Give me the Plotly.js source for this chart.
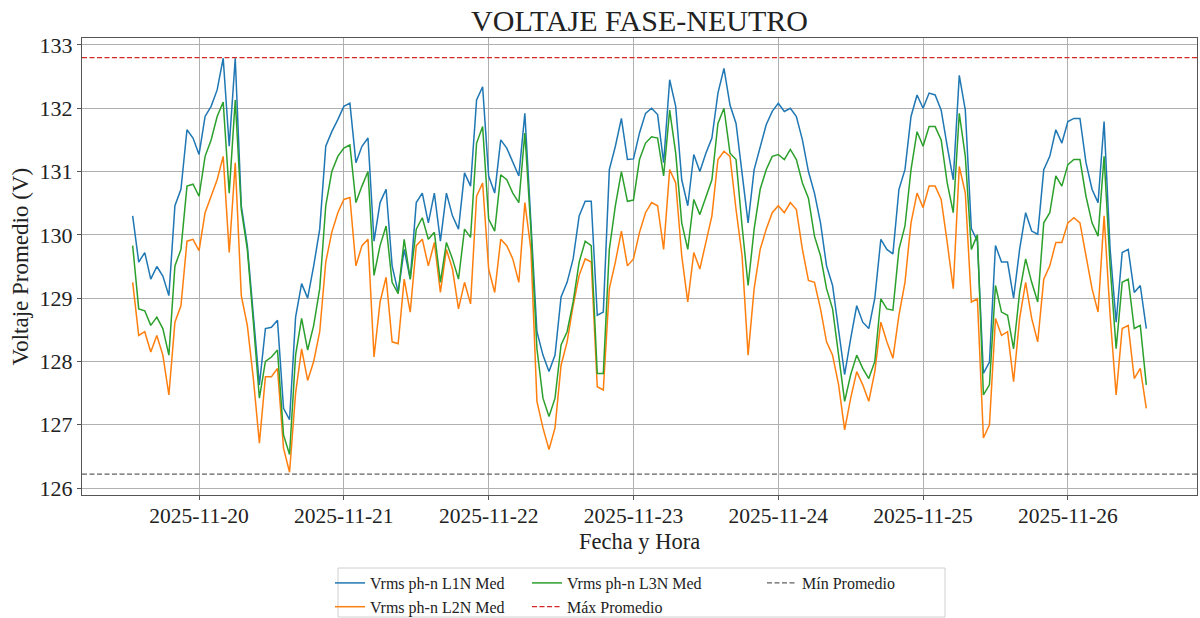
<!DOCTYPE html>
<html>
<head>
<meta charset="utf-8">
<script src="https://cdn.plot.ly/plotly-3.0.1.min.js"></script>
<style>html,body{margin:0;padding:0;background:#fff;}#chart{width:1200px;height:618px;}</style>
</head>
<body>
<div id="chart"></div>
<script>
// Hourly readings, first sample at 2025-11-19 13:00
const START_TIME = '2025-11-19T13:00:00';
const L1N = [130.3,129.57,129.72,129.3,129.5,129.35,129.04,130.46,130.72,131.66,131.53,
131.27,131.87,132.03,132.29,132.79,131.4,132.79,130.46,129.83,128.73,127.63,128.52,128.54,128.65,127.26,127.08,128.7,129.23,129.0,129.51,130.09,131.4,131.63,131.82,
132.03,132.08,131.14,131.4,131.53,129.9,130.51,130.72,129.51,129.09,129.77,129.3,130.51,130.66,130.19,130.66,129.9,130.66,130.3,130.09,130.98,130.77,132.13,132.34,
130.93,130.66,131.5,131.37,131.16,130.93,131.92,130.19,128.47,128.1,127.84,128.1,129.02,129.25,129.62,130.3,130.53,130.53,128.73,128.78,131.03,131.4,131.84,131.19,
131.2,131.61,131.92,132.0,131.9,131.14,132.45,132.03,130.87,130.46,131.27,131.0,131.29,131.53,132.24,132.63,132.05,131.76,130.93,130.19,131.03,131.4,131.74,131.95,
132.08,131.95,132.0,131.87,131.5,131.0,130.66,130.19,129.51,129.2,128.52,127.79,128.36,128.88,128.62,128.52,129.0,129.93,129.77,129.7,130.72,131.03,131.87,132.21,
132.0,132.24,132.21,131.97,131.4,130.87,132.52,131.97,130.1,129.9,127.81,127.99,129.83,129.57,129.57,129.0,129.77,130.35,130.06,130.01,131.03,131.24,131.66,131.45,
131.79,131.84,131.84,131.14,130.72,130.51,131.79,129.77,128.62,129.72,129.77,129.09,129.2,128.52];
const L2N = [129.25,128.41,128.47,128.15,128.41,128.1,127.47,128.62,128.88,129.9,129.93,
129.75,130.35,130.61,130.87,131.24,129.72,131.14,129.04,128.57,127.73,126.71,127.76,127.76,127.89,126.63,126.25,127.5,128.2,127.7,128.0,128.47,129.57,130.04,130.35,
130.56,130.59,129.51,129.83,129.93,128.07,128.94,129.33,128.31,128.28,129.3,128.78,129.83,129.93,129.51,129.88,129.09,129.77,129.46,128.83,129.25,128.91,130.61,130.82,
129.46,129.09,129.93,129.83,129.62,129.25,130.51,129.77,127.37,126.95,126.61,126.95,127.94,128.31,128.88,129.36,129.62,129.57,127.6,127.55,129.15,129.57,130.06,129.51,
129.62,130.04,130.35,130.51,130.46,129.77,131.03,130.82,129.67,128.94,129.72,129.46,129.88,130.3,131.19,131.32,131.24,130.4,129.67,128.1,129.15,129.77,130.09,130.35,
130.46,130.35,130.51,130.4,129.77,129.28,129.25,128.83,128.31,128.1,127.63,126.92,127.42,127.84,127.63,127.37,127.84,128.62,128.31,128.05,128.73,129.25,130.19,130.66,
130.43,130.77,130.77,130.56,129.88,129.15,131.08,130.66,128.94,128.99,126.79,127.0,128.68,128.41,128.47,127.68,128.68,129.25,128.68,128.31,129.3,129.51,129.88,129.88,
130.19,130.27,130.19,129.67,129.15,128.78,130.3,128.73,127.47,128.52,128.57,127.73,127.89,127.26];
const L3N = [129.83,128.83,128.8,128.57,128.7,128.52,128.1,129.51,129.77,130.77,130.8,
130.61,131.24,131.5,131.87,132.1,130.66,132.13,130.4,129.77,128.62,127.42,128.0,128.07,128.18,126.84,126.53,128.1,128.68,128.18,128.57,129.15,130.46,131.0,131.24,
131.37,131.42,130.51,130.77,131.0,129.36,129.83,130.14,129.25,129.07,129.93,129.3,130.09,130.27,129.93,130.04,129.25,129.88,129.62,129.3,130.09,129.96,131.45,131.71,
130.25,130.06,130.95,130.87,130.66,130.51,131.61,130.09,128.2,127.42,127.13,127.42,128.26,128.47,128.94,129.57,129.9,129.83,127.81,127.81,129.77,130.46,131.0,130.53,
130.55,131.19,131.45,131.55,131.53,130.93,131.97,131.29,130.19,129.77,130.56,130.32,130.61,130.87,131.76,132.0,131.29,131.19,130.14,129.2,130.09,130.72,131.03,131.24,
131.27,131.19,131.35,131.19,130.82,130.58,129.98,129.67,129.15,128.83,128.1,127.37,127.79,128.1,127.89,127.73,128.0,128.99,128.83,128.81,129.77,130.14,131.03,131.63,
131.4,131.71,131.71,131.5,130.82,130.35,131.92,131.24,129.77,130.0,127.47,127.63,129.2,128.78,128.73,128.2,129.09,129.62,129.25,128.94,130.19,130.35,130.93,130.77,
131.11,131.19,131.19,130.61,130.19,129.98,131.24,129.51,128.2,129.25,129.3,128.52,128.57,127.63];
const MAX_PROMEDIO = 132.8;
const MIN_PROMEDIO = 126.22;
const X_RANGE = ['2025-11-19 04:36', '2025-11-26 21:24'];
const Y_RANGE = [125.89, 133.11];
const X_TICKS = ['2025-11-20','2025-11-21','2025-11-22','2025-11-23','2025-11-24','2025-11-25','2025-11-26'];
const Y_TICKS = [126,127,128,129,130,131,132,133];

function pad(n){return (n<10?'0':'')+n;}
const t0 = new Date(START_TIME + 'Z').getTime();
const times = L1N.map((_, i) => {
  const d = new Date(t0 + i*3600000);
  return d.getUTCFullYear()+'-'+pad(d.getUTCMonth()+1)+'-'+pad(d.getUTCDate())+' '+pad(d.getUTCHours())+':00';
});

const FONT = 'Liberation Serif, Times New Roman, serif';
const traces = [
  {x: times, y: L1N, name: 'Vrms ph-n L1N Med', mode: 'lines', line: {color: '#1f77b4', width: 1.5}, legend: 'legend'},
  {x: times, y: L2N, name: 'Vrms ph-n L2N Med', mode: 'lines', line: {color: '#ff7f0e', width: 1.5}, legend: 'legend'},
  {x: times, y: L3N, name: 'Vrms ph-n L3N Med', mode: 'lines', line: {color: '#2ca02c', width: 1.5}, legend: 'legend2'},
  {x: X_RANGE, y: [MAX_PROMEDIO, MAX_PROMEDIO], name: 'Máx Promedio', mode: 'lines', line: {color: '#d62728', width: 1.3, dash: '5px,2.5px'}, legend: 'legend2'},
  {x: X_RANGE, y: [MIN_PROMEDIO, MIN_PROMEDIO], name: 'Mín Promedio', mode: 'lines', line: {color: '#606060', width: 1.3, dash: '5px,2.5px'}, legend: 'legend3'}
];

const legendBase = {
  xref: 'container', yref: 'container', xanchor: 'left', yanchor: 'top',
  orientation: 'v', bgcolor: 'rgba(0,0,0,0)', borderwidth: 0,
  font: {family: FONT, size: 16, color: '#222'}, tracegroupgap: 0, itemwidth: 30
};

const layout = {
  width: 1200, height: 618,
  margin: {l: 82, r: 3, t: 38, b: 123, autoexpand: false},
  paper_bgcolor: '#ffffff', plot_bgcolor: '#ffffff',
  title: {text: 'VOLTAJE FASE-NEUTRO', x: 0.5, xref: 'paper', y: 0.967, yref: 'container', yanchor: 'middle',
          font: {family: FONT, size: 30, color: '#222'}},
  xaxis: {
    type: 'date', range: X_RANGE, tickvals: X_TICKS, tickformat: '%Y-%m-%d', tickangle: 0,
    automargin: false, ticklabelstandoff: -3,
    showgrid: true, gridcolor: '#b0b0b0', gridwidth: 1,
    showline: true, mirror: true, linecolor: '#555', linewidth: 1,
    ticks: 'outside', ticklen: 4, tickcolor: '#555',
    tickfont: {family: FONT, size: 21.5, color: '#222'},
    zeroline: false
  },
  yaxis: {
    range: Y_RANGE, tickvals: Y_TICKS, automargin: false,
    showgrid: true, gridcolor: '#b0b0b0', gridwidth: 1,
    showline: true, mirror: true, linecolor: '#555', linewidth: 1,
    ticks: 'outside', ticklen: 4, tickcolor: '#555',
    tickfont: {family: FONT, size: 22, color: '#222'},
    zeroline: false
  },
  annotations: [{
    text: 'Voltaje Promedio (V)', textangle: -90, showarrow: false,
    xref: 'paper', yref: 'paper', x: (20-82)/1115, y: 0.5, xanchor: 'center', yanchor: 'middle',
    font: {family: FONT, size: 23, color: '#222'}
  }, {
    text: 'Fecha y Hora', showarrow: false,
    xref: 'paper', yref: 'paper', x: 0.5, y: (495-541)/457, xanchor: 'center', yanchor: 'middle',
    font: {family: FONT, size: 22.5, color: '#222'}
  }],
  legend: Object.assign({}, legendBase, {x: 330/1200, y: 1 - 566/618}),
  legend2: Object.assign({}, legendBase, {x: 527/1200, y: 1 - 566/618}),
  legend3: Object.assign({}, legendBase, {x: 762/1200, y: 1 - 566/618}),
  shapes: [{
    type: 'rect', xref: 'paper', yref: 'paper',
    x0: (338-82)/1115, x1: (945-82)/1115, y0: (495-617)/457, y1: (495-568)/457,
    line: {color: '#d0d0d0', width: 1}, fillcolor: 'rgba(0,0,0,0)', layer: 'below'
  }],
  showlegend: true,
  hovermode: false
};

Plotly.newPlot('chart', traces, layout, {displayModeBar: false, staticPlot: true});
</script>
</body>
</html>
